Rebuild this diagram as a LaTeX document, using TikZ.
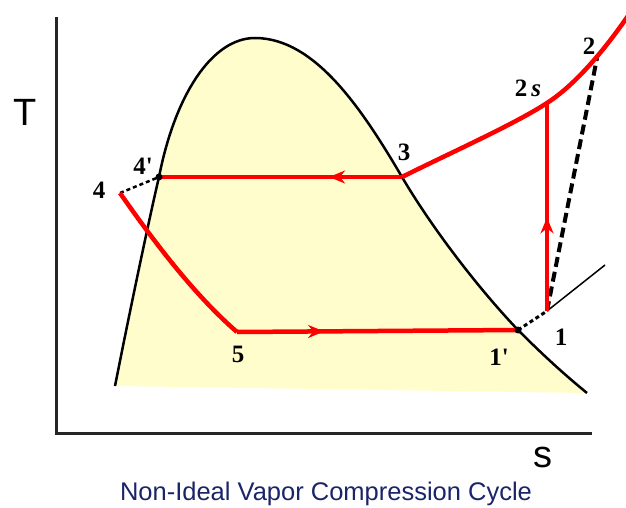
\documentclass[tikz,border=0pt]{standalone}
\usepackage{fontspec}
\setmainfont{Liberation Serif}
\setsansfont{Liberation Sans}
\usetikzlibrary{decorations.markings,arrows.meta}
\definecolor{domefill}{RGB}{255,253,204}
\definecolor{titleblue}{RGB}{26,36,104}
\tikzset{
  midarrow/.style={
    decoration={
      markings,
      mark=at position #1 with {\arrow[red]{Stealth[length=16pt,width=13pt]}}
    },
    postaction={decorate}
  },
  midarrow/.default=0.5,
  cycleline/.style={red, line width=4.5pt},
  domeline/.style={black, line width=2.5pt},
  axisline/.style={black!85, line width=3pt},
  dashline/.style={black, line width=2.5pt, dash pattern=on 4pt off 3pt},
  statelabel/.style={font=\bfseries\fontsize{25}{25}\selectfont, inner sep=0pt},
  axislabel/.style={font=\sffamily\fontsize{38}{38}\selectfont, inner sep=0pt},
  titletext/.style={font=\sffamily\fontsize{25.5}{25.5}\selectfont, text=titleblue, inner sep=0pt}
}

\begin{document}
\begin{tikzpicture}[x=1pt, y=-1pt]
    \useasboundingbox (0,0) rectangle (626,508);
    \clip (0,0) rectangle (626,508);

    % State points
    \coordinate (p1p) at (518,330);
    \coordinate (p1) at (547,311);
    \coordinate (p2s) at (547,103);
    \coordinate (p2) at (597,58);
    \coordinate (p3) at (402,177);
    \coordinate (p4p) at (159,177);
    \coordinate (p4) at (120,193);
    \coordinate (p5) at (237,332);
    \coordinate (isoend) at (605,265);
    \coordinate (redend) at (632,10);

    % Axes
    \coordinate (ytop) at (56,17);
    \coordinate (origin) at (56,433);
    \coordinate (xend) at (592,433);
    \draw[axisline] (ytop) -- (origin) -- (xend);
    \node[axislabel] (tlabel) at (25,112) {T};
    \node[axislabel] (slabel) at (543,457) {s};

    % Saturation dome
    \draw[domeline, fill=domefill] (115,386)
        .. controls (130,310) and (150,215) .. (p4p)
        .. controls (175,95) and (212,38) .. (255,38)
        .. controls (315,38) and (362,109) .. (p3)
        .. controls (432,228) and (478,288) .. (p1p)
        .. controls (545,357) and (565,375) .. (587,393);

    % Black dashed lines
    \draw[dashline] (p4) -- (p4p);
    \draw[dashline, line width=3pt] (p1p) -- (p1);
    \draw[black, line width=1.5pt] (p1) -- (isoend);
    \draw[dashline, line width=4pt, dash pattern=on 10pt off 5pt] (p1) -- (p2);

    % Cycle
    \draw[cycleline, midarrow=0.3] (p3) -- (p4p);
    \draw[cycleline] (p4) .. controls (150,236) and (192,293) .. (p5);
    \draw[cycleline, midarrow=0.31] (p5) -- (p1p);
    \draw[cycleline, midarrow=0.45] (p1) -- (p2s);
    \draw[cycleline] (p3) .. controls (450,153) and (515,124) .. (p2s)
        .. controls (575,85) and (605,50) .. (redend);
    \fill (p4p) circle (3.5pt);
    \fill (p1p) circle (3.5pt);

    % Labels
    \node[statelabel] (l1) at (561,337) {1};
    \node[statelabel] (l1p) at (499,357) {1\textquotesingle};
    \node[statelabel] (l2) at (589,46) {2};
    \node[statelabel] (l2s) at (528,88) {2\,\textit{s}};
    \node[statelabel] (l3) at (404,152) {3};
    \node[statelabel] (l4) at (99,190) {4};
    \node[statelabel] (l4p) at (143,166) {4\textquotesingle};
    \node[statelabel] (l5) at (238,354) {5};

    \node[titletext] (title) at (326,494) {Non-Ideal Vapor Compression Cycle};

\end{tikzpicture}
\end{document}
